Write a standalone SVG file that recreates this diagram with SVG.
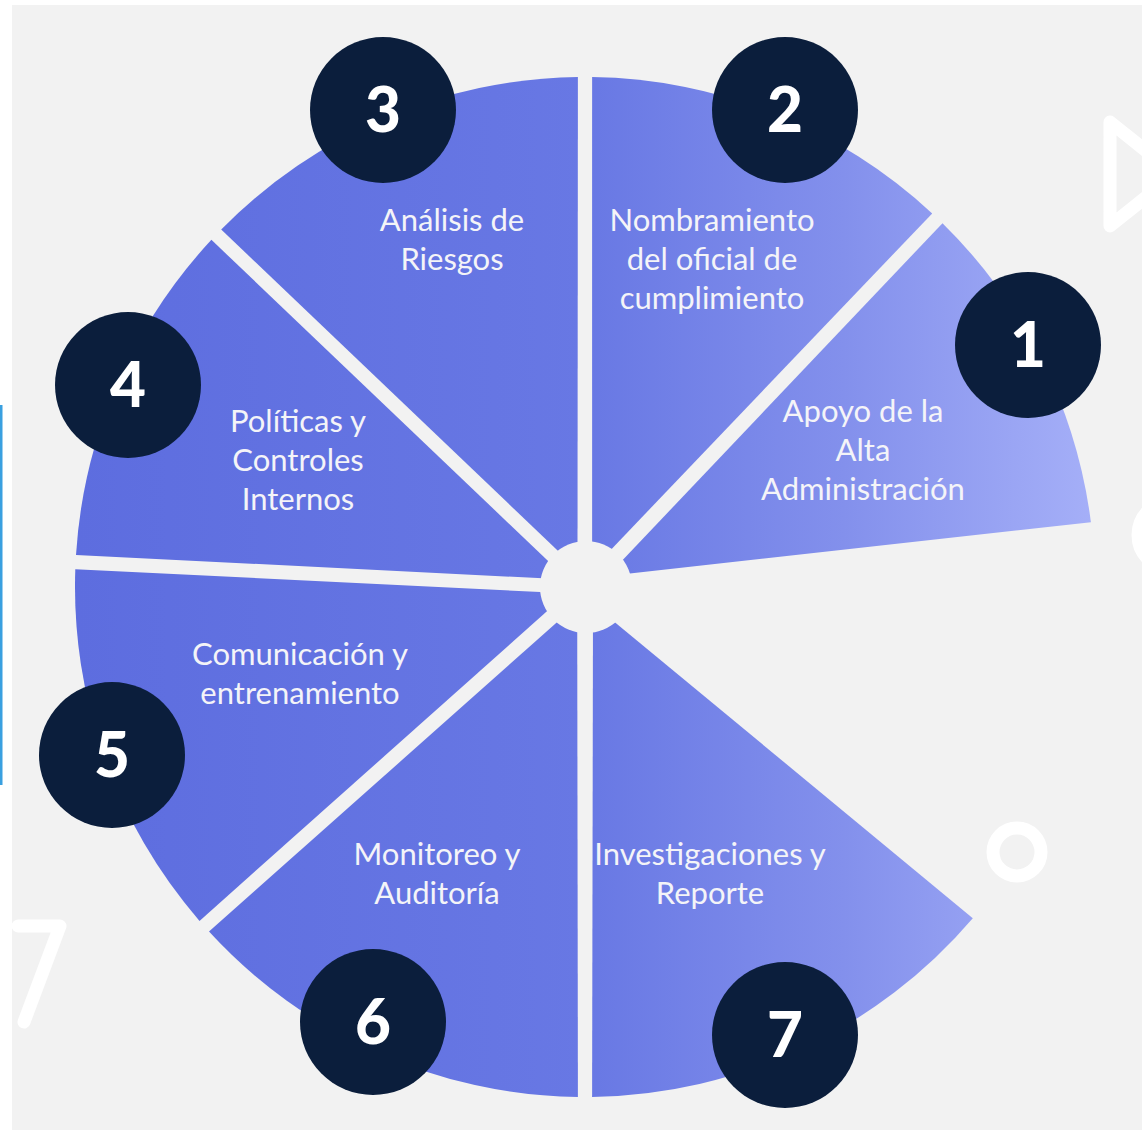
<svg xmlns="http://www.w3.org/2000/svg" width="1142" height="1135" viewBox="0 0 1142 1135">
<defs>
<linearGradient id="fan" gradientUnits="userSpaceOnUse" x1="75" y1="0" x2="1100" y2="0">
<stop offset="0" stop-color="#5d6ddf"/>
<stop offset="0.5" stop-color="#6878e4"/>
<stop offset="0.75" stop-color="#8390ec"/>
<stop offset="1" stop-color="#a6b0f8"/>
</linearGradient>
<style>
.wedge{fill:url(#fan);}
.badge{fill:#0b1e3c;}
.num{font-family:Lato,"Liberation Sans",sans-serif;font-weight:900;font-size:62px;fill:#ffffff;text-anchor:middle;}
.lbl{font-family:Lato,"Liberation Sans",sans-serif;font-size:31px;fill:#f4f4f8;text-anchor:middle;}
.deco{fill:none;stroke:#ffffff;stroke-width:13;stroke-linejoin:round;stroke-linecap:round;}
</style>
</defs>
<rect x="0" y="0" width="1142" height="1135" fill="#ffffff"/>
<rect x="12" y="5" width="1130" height="1125" fill="#f2f2f2"/>
<rect x="0" y="405" width="2.5" height="380" fill="#3aa0e0"/>
<g id="decorations">
<path class="deco" d="M1110 122 L1110 226 L1175 174 Z"/>
<circle class="deco" cx="1017" cy="852" r="24"/>
<path class="deco" d="M18 926 L60 926 L24 1022"/>
<circle class="deco" cx="1172" cy="535" r="34"/>
</g>
<g id="connectors"/>
<g id="node1">
<path class="wedge" d="M607.5 576 L942.5 223.2 A510 510 0 0 1 1090.9 522.2 Z"/>
<text class="lbl" x="863" y="422">Apoyo de la</text>
<text class="lbl" x="863" y="461">Alta</text>
<text class="lbl" x="863" y="500">Administración</text>
<circle class="badge" cx="1028" cy="345" r="73"/>
<text class="num" x="1028" y="367">1</text>
</g>
<g id="node2">
<path class="wedge" d="M592.1 569.4 L592.1 77 A510 510 0 0 1 932.2 213.4 Z"/>
<text class="lbl" x="712" y="231">Nombramiento</text>
<text class="lbl" x="712" y="270">del oficial de</text>
<text class="lbl" x="712" y="309">cumplimiento</text>
<circle class="badge" cx="785" cy="110" r="73"/>
<text class="num" x="785" y="132">2</text>
</g>
<g id="node3">
<path class="wedge" d="M577.5 569.5 L221.2 229.5 A510 510 0 0 1 577.9 77 Z"/>
<text class="lbl" x="452" y="231">Análisis de</text>
<text class="lbl" x="452" y="270">Riesgos</text>
<circle class="badge" cx="383" cy="110" r="73"/>
<text class="num" x="383" y="132">3</text>
</g>
<g id="node4">
<path class="wedge" d="M567.5 579.5 L76 555 A510 510 0 0 1 211.4 239.8 Z"/>
<text class="lbl" x="298" y="432">Políticas y</text>
<text class="lbl" x="298" y="471">Controles</text>
<text class="lbl" x="298" y="510">Internos</text>
<circle class="badge" cx="128" cy="385" r="73"/>
<text class="num" x="128" y="407">4</text>
</g>
<g id="node5">
<path class="wedge" d="M567.1 593.3 L199.5 920.9 A510 510 0 0 1 75.3 569.2 Z"/>
<text class="lbl" x="300" y="665">Comunicación y</text>
<text class="lbl" x="300" y="704">entrenamiento</text>
<circle class="badge" cx="112" cy="755" r="73"/>
<text class="num" x="112" y="777">5</text>
</g>
<g id="node6">
<path class="wedge" d="M577.2 604.3 L577.9 1097 A510 510 0 0 1 209 931.6 Z"/>
<text class="lbl" x="437" y="865">Monitoreo y</text>
<text class="lbl" x="437" y="904">Auditoría</text>
<circle class="badge" cx="373" cy="1022" r="73"/>
<text class="num" x="373" y="1044">6</text>
</g>
<g id="node7">
<path class="wedge" d="M593 604.2 L972.8 918.2 A510 510 0 0 1 592.1 1097 Z"/>
<text class="lbl" x="710" y="865">Investigaciones y</text>
<text class="lbl" x="710" y="904">Reporte</text>
<circle class="badge" cx="785" cy="1035" r="73"/>
<text class="num" x="785" y="1057">7</text>
</g>
<circle id="hub" cx="586" cy="587" r="46" fill="#f2f2f2"/>
</svg>
